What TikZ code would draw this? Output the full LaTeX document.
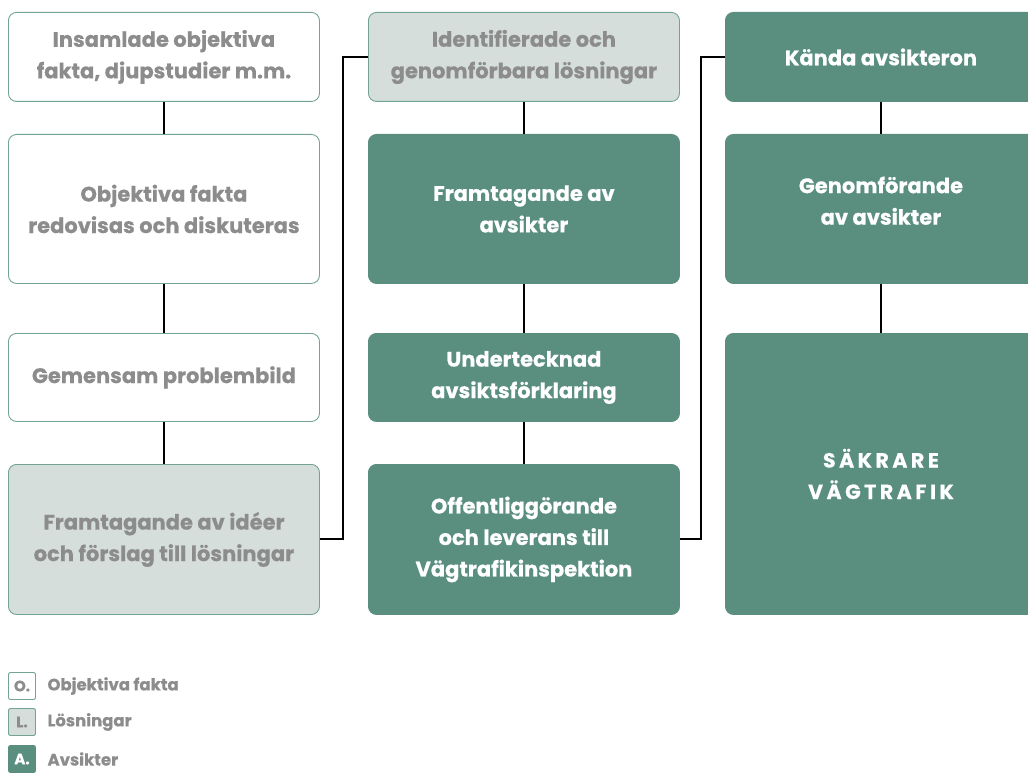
\documentclass[tikz,border=0pt]{standalone}
\usepackage{fontspec}
\setmainfont{Poppins}[BoldFeatures={FakeBold=0.5}]
\usetikzlibrary{positioning}

\definecolor{avgreen}{HTML}{5A8F80}
\definecolor{losgrey}{HTML}{D5DEDA}
\definecolor{edgegreen}{HTML}{72A393}
\definecolor{txtgrey}{HTML}{8C8C8C}

\tikzset{
  stepbase/.style={rounded corners=8pt, draw=edgegreen, line width=0.9pt,
    minimum width=311pt, anchor=north west, align=center, inner sep=4pt,
    font=\bfseries\fontsize{21}{31.5}\selectfont},
  fact/.style={stepbase, fill=white, text=txtgrey},
  sol/.style={stepbase, fill=losgrey, text=txtgrey},
  intent/.style={stepbase, fill=avgreen, draw=avgreen, text=white},
  goal/.style={intent, font=\bfseries\fontsize{20.5}{31.5}\selectfont\addfontfeature{LetterSpace=17}},
  link/.style={line width=2pt, black},
  keybox/.style={rounded corners=2pt, draw=edgegreen, line width=0.9pt,
    minimum size=27pt, inner sep=0pt, font=\bfseries\fontsize{15}{16}\selectfont},
  keytext/.style={anchor=west, text=txtgrey, font=\bfseries\fontsize{16.5}{18}\selectfont}
}

\begin{document}
\begin{tikzpicture}[x=1pt,y=-1pt]
  \useasboundingbox (0,0) rectangle (1028,773);
  \clip (0,0) rectangle (1028,773);

  % Objektiva fakta
  \node[fact, minimum height=89pt] (f1) at (8,12) {Insamlade objektiva\\fakta, djupstudier m.m.};
  \node[fact, minimum height=149pt] (f2) at (8,134) {Objektiva fakta\\redovisas och diskuteras};
  \node[fact, minimum height=88pt] (f3) at (8,333) {Gemensam problembild};
  \node[sol, minimum height=150pt] (f4) at (8,464) {Framtagande av idéer\\och förslag till lösningar};

  % Lösningar
  \node[sol, minimum height=89pt] (s1) at (368,12) {Identifierade och\\genomförbara lösningar};
  \node[intent, minimum height=149pt] (s2) at (368,134) {Framtagande av\\avsikter};
  \node[intent, minimum height=88pt] (s3) at (368,333) {Undertecknad\\avsiktsförklaring};
  \node[intent, minimum height=150pt] (s4) at (368,464) {Offentliggörande\\och leverans till\\Vägtrafikinspektion};

  % Avsikter (cut off at the right edge)
  \node[intent, minimum height=89pt] (a1) at (725,12) {Kända avsikteron};
  \node[intent, minimum height=149pt] (a2) at (725,134) {Genomförande\\av avsikter\\[-15pt]};
  \node[goal, minimum height=281pt] (a3) at (725,333) {SÄKRARE\\VÄGTRAFIK};

  % connectors
  \draw[link] (f1) -- (f2);
  \draw[link] (f2) -- (f3);
  \draw[link] (f3) -- (f4);
  \draw[link] (s1) -- (s2);
  \draw[link] (s2) -- (s3);
  \draw[link] (s3) -- (s4);
  \draw[link] (a1) -- (a2);
  \draw[link] (a2) -- (a3);
  \draw[link] (f4.east) -- ++(23,0) |- (s1.west);
  \draw[link] (s4.east) -- ++(21,0) |- (a1.west);

  % legend
  \node[keybox, fill=white, text=txtgrey] (ko) at (22,686) {O.};
  \node[keybox, fill=losgrey, text=txtgrey] (kl) at (22,722) {L.};
  \node[keybox, fill=avgreen, draw=avgreen, text=white] (ka) at (22,759) {A.};
  \node[keytext] (tko) at (44,686) {Objektiva fakta};
  \node[keytext] (tkl) at (44,722) {Lösningar};
  \node[keytext] (tka) at (44,759) {Avsikter};
\end{tikzpicture}
\end{document}
